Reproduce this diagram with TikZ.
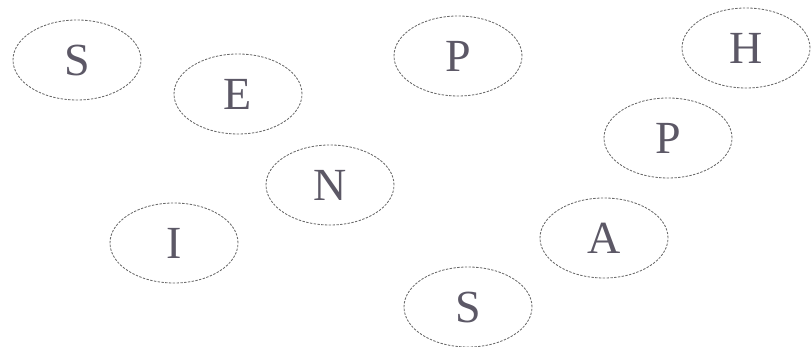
\documentclass[tikz,border=0pt]{standalone}
\usepackage{fontspec}
\setmainfont{Liberation Serif}
\usetikzlibrary{shapes.geometric}
\definecolor{lettergray}{RGB}{92,88,102}
\definecolor{rimgray}{RGB}{105,105,105}

\begin{document}
\begin{tikzpicture}[
    x=1pt, y=-1pt,
    letter/.style={ellipse, draw=rimgray, dash pattern=on 2.4pt off 1.4pt, line width=0.85pt,
                   minimum width=128pt, minimum height=80pt, inner sep=0pt,
                   text=lettergray, font=\fontsize{46}{46}\selectfont}
]
\useasboundingbox (0,0) rectangle (811,347);

% Upper row
\node[letter] (s_one) at (77,60) {S};
\node[letter] (e_one) at (238,94) {E};
\node[letter] (p_one) at (458,56) {P};
\node[letter] (h_one) at (746,48) {H};

% Middle
\node[letter] (p_two) at (668,138) {P};
\node[letter] (n_one) at (330,185) {N};

% Lower row
\node[letter] (i_one) at (174,243) {I};
\node[letter] (a_one) at (604,238) {A};
\node[letter] (s_two) at (468,307) {S};

\end{tikzpicture}
\end{document}
